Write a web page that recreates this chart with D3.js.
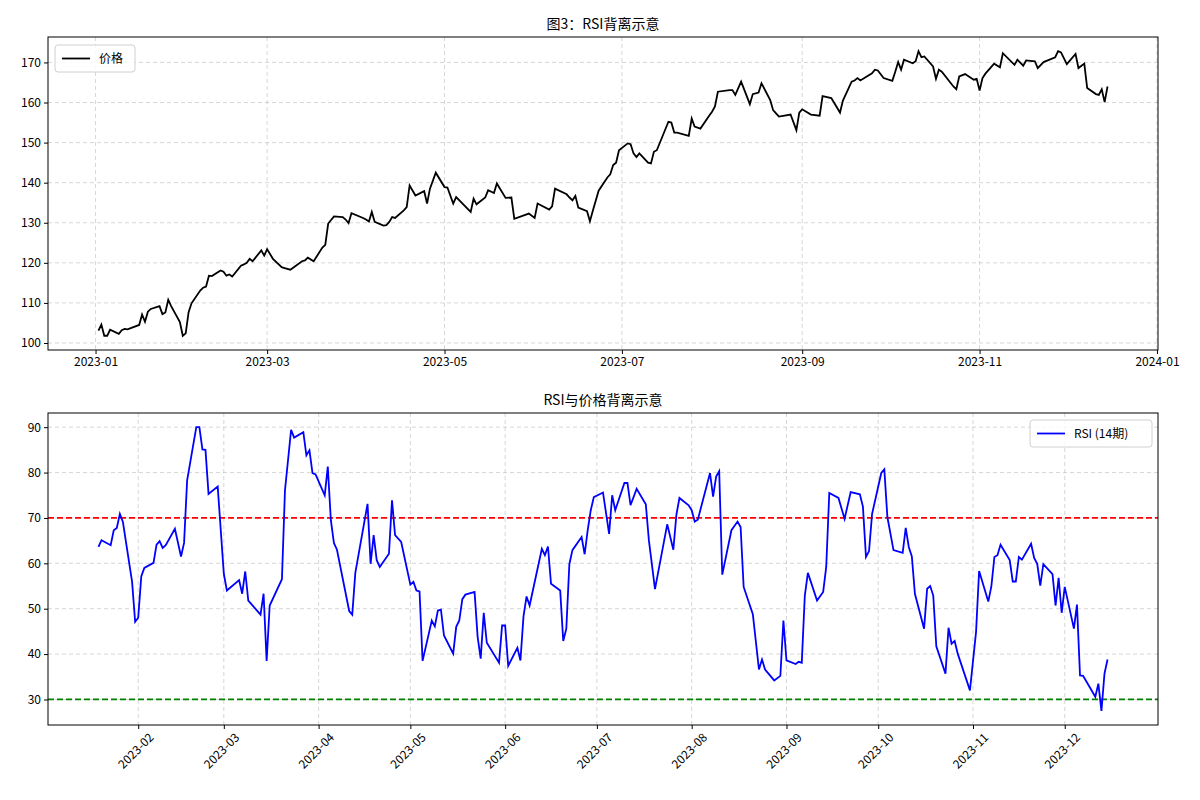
<!DOCTYPE html>
<html>
<head>
<meta charset="utf-8">
<script src="https://cdn.jsdelivr.net/npm/d3@7"></script>
<style>
body { margin: 0; background: #fff; }
text { font-family: "Noto Sans CJK SC", "DejaVu Sans", sans-serif; }
</style>
</head>
<body>
<svg id="chart" width="1200" height="800"></svg>
<script>
// price path vertices
var priceDates = ["01-02","01-03","01-04","01-05","01-06","01-09","01-10","01-11","01-12","01-16","01-17","01-18","01-19","01-20","01-23","01-24","01-25","01-26","01-27","01-30","01-31","02-01","02-02","02-03","02-06","02-07","02-08","02-09","02-10","02-13","02-14","02-15","02-16","02-17","02-20","02-21","02-22","02-23","02-24","02-27","02-28","03-01","03-03","03-06","03-07","03-09","03-13","03-14","03-15","03-17","03-20","03-21","03-22","03-24","03-27","03-28","03-29","03-30","04-03","04-04","04-05","04-06","04-07","04-10","04-11","04-12","04-13","04-14","04-17","04-18","04-19","04-21","04-24","04-25","04-26","04-28","05-01","05-02","05-04","05-05","05-10","05-11","05-12","05-15","05-16","05-18","05-19","05-22","05-24","05-25","05-30","06-01","06-02","06-06","06-07","06-08","06-12","06-13","06-14","06-15","06-16","06-19","06-20","06-21","06-23","06-26","06-27","06-28","06-29","06-30","07-03","07-04","07-05","07-06","07-07","07-10","07-11","07-12","07-13","07-17","07-18","07-19","07-20","07-24","07-25","07-26","07-28","07-31","08-01","08-02","08-03","08-07","08-08","08-09","08-11","08-14","08-15","08-17","08-18","08-21","08-22","08-23","08-24","08-28","08-30","08-31","09-01","09-04","09-07","09-08","09-11","09-14","09-15","09-18","09-19","09-20","09-21","09-25","09-26","09-27","09-29","10-02","10-03","10-04","10-05","10-06","10-09","10-10","10-11","10-12","10-13","10-16","10-17","10-18","10-19","10-23","10-24","10-25","10-27","10-30","10-31","11-01","11-02","11-03","11-06","11-08","11-09","11-13","11-14","11-16","11-17","11-20","11-21","11-23","11-27","11-28","11-29","12-01","12-04","12-05","12-07","12-08","12-11","12-12","12-13","12-14","12-15"];
var priceValues = [103.1,104.6,101.8,101.8,103.3,102.3,103.2,103.5,103.4,104.5,107.1,105.3,107.8,108.5,109.2,107.2,107.6,110.8,109.2,105.2,101.8,102.4,107.7,109.9,113.1,113.8,114.1,116.8,116.7,118.1,117.8,116.8,117.1,116.6,119.3,119.6,120.0,121.0,120.4,123.1,121.8,123.4,121.0,118.9,118.7,118.3,120.4,120.6,121.3,120.4,123.8,124.5,129.8,131.6,131.4,130.8,129.9,132.4,131.2,130.8,130.3,132.7,130.2,129.3,129.4,130.2,131.4,131.2,133.1,133.9,139.3,136.8,137.9,134.8,138.5,142.5,138.9,138.8,134.8,136.4,132.7,136.0,134.6,136.3,138.1,137.4,139.8,136.2,136.3,131.0,132.3,131.2,134.8,133.3,134.1,138.5,137.1,136.3,135.6,136.7,133.8,132.9,130.4,133.0,138.0,141.3,142.1,144.4,145.0,148.1,149.8,149.6,147.3,146.4,147.3,145.0,144.8,147.7,148.1,155.2,155.0,152.5,152.5,151.7,156.0,154.0,153.5,156.7,157.7,159.0,162.7,163.1,163.1,161.9,165.2,159.6,162.1,162.5,164.8,160.6,158.1,157.3,156.5,157.0,153.1,157.5,158.3,157.0,156.7,161.6,161.1,157.5,160.5,165.2,165.5,166.1,165.5,167.3,168.2,168.0,166.1,165.4,167.7,170.1,168.2,170.7,169.8,170.3,172.8,171.3,171.5,169.0,165.9,168.2,167.7,164.0,163.3,166.5,167.1,165.7,165.9,163.0,166.1,167.2,169.7,168.8,172.3,169.4,170.7,169.2,170.5,170.3,168.6,170.1,171.3,172.8,172.5,169.6,172.1,168.6,169.7,163.6,162.1,161.9,163.3,160.1,164.0,166.5];

var rsiDates = ["01-19","01-20","01-23","01-24","01-25","01-26","01-27","01-30","01-31","02-01","02-02","02-03","02-06","02-07","02-08","02-09","02-10","02-13","02-15","02-16","02-17","02-20","02-21","02-22","02-23","02-24","02-27","03-01","03-02","03-06","03-07","03-08","03-09","03-13","03-14","03-15","03-16","03-20","03-21","03-23","03-24","03-27","03-28","03-29","03-30","03-31","04-03","04-04","04-05","04-06","04-07","04-11","04-12","04-13","04-17","04-18","04-19","04-20","04-21","04-24","04-25","04-26","04-28","05-01","05-02","05-03","05-04","05-05","05-08","05-09","05-10","05-11","05-12","05-15","05-16","05-17","05-18","05-19","05-22","05-23","05-24","05-25","05-26","05-30","05-31","06-01","06-02","06-05","06-06","06-07","06-08","06-09","06-13","06-14","06-15","06-16","06-19","06-20","06-21","06-22","06-23","06-26","06-27","06-28","06-29","06-30","07-03","07-05","07-06","07-07","07-10","07-11","07-12","07-14","07-17","07-18","07-20","07-24","07-26","07-27","07-28","07-31","08-01","08-02","08-03","08-07","08-08","08-09","08-10","08-11","08-14","08-16","08-17","08-18","08-21","08-23","08-24","08-25","08-28","08-30","08-31","09-01","09-04","09-05","09-06","09-07","09-08","09-11","09-13","09-14","09-15","09-18","09-20","09-22","09-25","09-26","09-27","09-28","09-29","10-02","10-03","10-04","10-06","10-09","10-10","10-11","10-12","10-13","10-16","10-17","10-18","10-19","10-20","10-23","10-24","10-25","10-26","10-27","10-31","11-02","11-03","11-06","11-07","11-08","11-09","11-10","11-13","11-14","11-15","11-16","11-17","11-20","11-21","11-22","11-23","11-24","11-27","11-28","11-29","11-30","12-01","12-04","12-05","12-06","12-07","12-11","12-12","12-13","12-14","12-15"];
var rsiValues = [63.6,65.1,64.0,67.3,67.8,70.9,69.1,55.9,47.1,48.0,57.1,59.0,60.1,64.1,64.9,63.4,64.0,67.6,61.5,64.5,78.3,90.0,90.0,85.1,85.0,75.3,76.9,57.7,54.0,56.3,53.3,58.2,51.8,48.7,53.3,38.5,50.7,56.5,76.1,89.4,87.7,88.9,83.8,84.9,79.9,79.6,75.0,81.3,69.5,64.5,63.0,49.5,48.7,57.9,73.1,59.9,66.2,60.7,59.2,62.1,73.9,66.2,64.7,55.3,55.9,54.0,53.8,38.5,47.4,46.1,49.6,49.8,44.1,40.1,46.0,47.4,52.1,53.1,53.7,43.8,39.0,49.1,42.5,38.1,46.3,46.3,37.4,41.4,38.6,48.3,52.7,50.7,63.2,61.8,63.7,55.5,54.0,42.9,45.6,59.8,62.9,65.8,62.0,67.3,71.7,74.6,75.6,66.5,75.0,71.7,77.7,77.7,72.8,76.4,73.0,65.1,54.3,68.6,63.0,70.7,74.4,72.8,71.7,69.2,69.6,79.9,74.7,79.1,80.3,57.5,67.3,69.2,68.0,54.8,48.8,36.6,38.8,36.6,34.2,35.2,47.4,38.6,37.8,38.3,38.1,52.9,57.9,51.8,53.7,59.2,75.5,74.4,69.8,75.7,75.2,72.5,61.4,62.7,70.9,79.9,80.7,70.2,62.9,62.3,67.8,63.6,61.5,53.3,45.6,54.4,55.0,52.9,41.7,35.7,45.8,42.3,42.9,40.1,32.0,44.9,58.3,51.6,54.9,61.4,61.8,64.1,60.7,56.0,56.0,61.4,60.8,64.3,61.2,59.9,55.1,59.8,57.6,50.7,56.8,49.1,54.8,45.6,50.9,35.3,35.2,30.6,33.5,27.5,35.7,38.8];

var overbought = 70, oversold = 30;
var topTicks = ["2023-01","2023-03","2023-05","2023-07","2023-09","2023-11","2024-01"];
var bottomTicks = ["2023-02","2023-03","2023-04","2023-05","2023-06","2023-07","2023-08","2023-09","2023-10","2023-11","2023-12"];

var parse = d3.timeParse("%Y-%m-%d");
var parseM = d3.timeParse("%Y-%m");
var price = priceDates.map(function(d, i){ return {date: parse("2023-" + d), value: priceValues[i]}; });
var rsi = rsiDates.map(function(d, i){ return {date: parse("2023-" + d), value: rsiValues[i]}; });

var svg = d3.select("#chart");

// matplotlib style 5% margins
function padded(ext){
    var a = +ext[0], b = +ext[1], m = (b - a) * 0.05;
    return [a - m, b + m];
}

function panel(opt){
    var g = svg.append("g");
    var xd = padded(d3.extent(opt.data, function(d){ return d.date; }));
    var x = d3.scaleTime().domain([new Date(xd[0]), new Date(xd[1])]).range([opt.left, opt.right]);
    var y = d3.scaleLinear().domain(padded(d3.extent(opt.data, function(d){ return d.value; }))).range([opt.bottom, opt.top]);

    var xt = opt.xTicks.map(parseM);
    // grid
    g.selectAll(".gx").data(xt).enter().append("line")
        .attr("x1", x).attr("x2", x).attr("y1", opt.top).attr("y2", opt.bottom)
        .attr("stroke", "#b0b0b0").attr("stroke-opacity", 0.5).attr("stroke-dasharray", "4,3");
    g.selectAll(".gy").data(opt.yTicks).enter().append("line")
        .attr("y1", y).attr("y2", y).attr("x1", opt.left).attr("x2", opt.right)
        .attr("stroke", "#b0b0b0").attr("stroke-opacity", 0.5).attr("stroke-dasharray", "4,3");

    if (opt.extra) opt.extra(g, x, y);

    g.append("path").datum(opt.data)
        .attr("fill", "none").attr("stroke", opt.color).attr("stroke-width", 1.8)
        .attr("d", d3.line().x(function(d){ return x(d.date); }).y(function(d){ return y(d.value); }));

    // axes
    var ax = g.append("g").attr("transform", "translate(0," + opt.bottom + ")")
        .call(d3.axisBottom(x).tickValues(xt).tickFormat(d3.timeFormat("%Y-%m")).tickSize(4).tickSizeOuter(0));
    ax.select(".domain").remove();
    ax.selectAll("text").attr("font-size", 12).attr("fill", "#000");
    if (opt.rotate){
        ax.selectAll("text").attr("text-anchor", "end").attr("dy", "0.3em").attr("dx", "-0.2em")
            .attr("transform", "translate(10,4) rotate(-45)");
    }
    var ay = g.append("g").attr("transform", "translate(" + opt.left + ",0)")
        .call(d3.axisLeft(y).tickValues(opt.yTicks).tickSize(4).tickSizeOuter(0));
    ay.select(".domain").remove();
    ay.selectAll("text").attr("font-size", 12).attr("fill", "#000");

    g.append("rect").attr("x", opt.left).attr("y", opt.top)
        .attr("width", opt.right - opt.left).attr("height", opt.bottom - opt.top)
        .attr("fill", "none").attr("stroke", "#000").attr("stroke-width", 1);

    g.append("text").attr("x", (opt.left + opt.right) / 2).attr("y", opt.top - 8)
        .attr("text-anchor", "middle").attr("font-size", 14).text(opt.title);

    // legend
    var lg = g.append("g").attr("transform", "translate(" + opt.legend[0] + "," + opt.legend[1] + ")");
    lg.append("rect").attr("width", opt.legend[2]).attr("height", 27).attr("rx", 3)
        .attr("fill", "#fff").attr("fill-opacity", 0.8).attr("stroke", "#d0d0d0");
    lg.append("line").attr("x1", 7).attr("x2", 35).attr("y1", 13.5).attr("y2", 13.5)
        .attr("stroke", opt.color).attr("stroke-width", 1.8);
    lg.append("text").attr("x", 44).attr("y", 18).attr("font-size", 12).text(opt.label);
}

panel({
    data: price, left: 48, right: 1158, top: 37, bottom: 350,
    xTicks: topTicks, yTicks: [100,110,120,130,140,150,160,170],
    color: "#000", title: "图3：RSI背离示意", label: "价格", legend: [55, 45, 80]
});

panel({
    data: rsi, left: 48, right: 1158, top: 413, bottom: 725, rotate: true,
    xTicks: bottomTicks, yTicks: [30,40,50,60,70,80,90],
    color: "#0000ff", title: "RSI与价格背离示意", label: "RSI (14期)", legend: [1030, 420, 122],
    extra: function(g, x, y){
        [[overbought, "#ff0000"], [oversold, "#008000"]].forEach(function(l){
            g.append("line").attr("x1", 48).attr("x2", 1158).attr("y1", y(l[0])).attr("y2", y(l[0]))
                .attr("stroke", l[1]).attr("stroke-width", 1.8).attr("stroke-dasharray", "6,3");
        });
    }
});
</script>
</body>
</html>
